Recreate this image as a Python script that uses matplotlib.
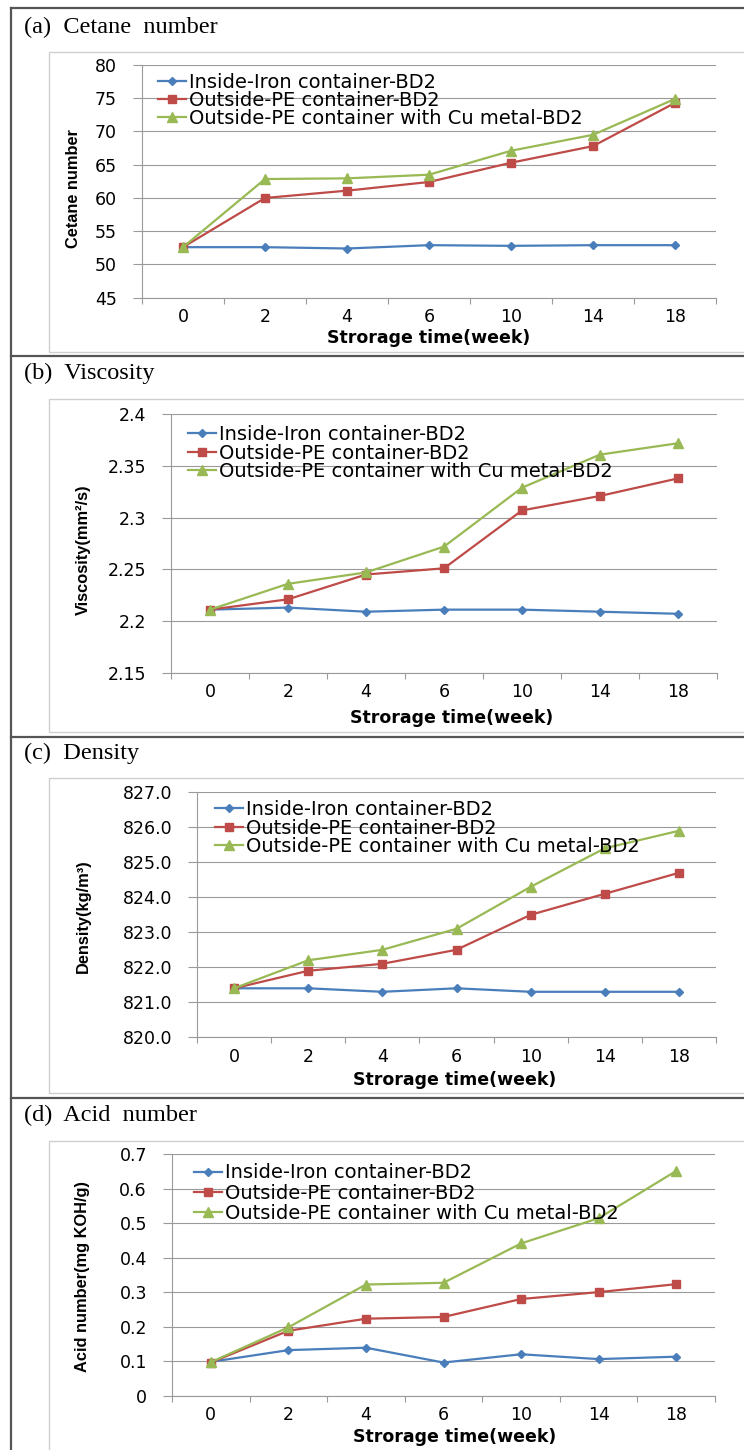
import matplotlib
matplotlib.use('Agg')
import matplotlib.pyplot as plt
from matplotlib.lines import Line2D
from matplotlib.patches import Rectangle
from matplotlib.ticker import FixedLocator

# storage time categories (week)
weeks = ['0', '2', '4', '6', '10', '14', '18']
series_names = ['Inside-Iron container-BD2',
                'Outside-PE container-BD2',
                'Outside-PE container with Cu metal-BD2']

# (a) cetane number
cetane_iron = [52.6, 52.6, 52.4, 52.9, 52.8, 52.9, 52.9]
cetane_pe = [52.6, 60.0, 61.1, 62.4, 65.3, 67.8, 74.3]
cetane_cu = [52.6, 62.85, 62.95, 63.5, 67.1, 69.5, 74.9]
cetane_ticks = [45, 50, 55, 60, 65, 70, 75, 80]
cetane_labels = ['45', '50', '55', '60', '65', '70', '75', '80']

# (b) viscosity
visc_iron = [2.211, 2.213, 2.209, 2.211, 2.211, 2.209, 2.207]
visc_pe = [2.211, 2.221, 2.245, 2.251, 2.307, 2.321, 2.338]
visc_cu = [2.211, 2.236, 2.247, 2.272, 2.329, 2.361, 2.372]
visc_ticks = [2.15, 2.2, 2.25, 2.3, 2.35, 2.4]
visc_labels = ['2.15', '2.2', '2.25', '2.3', '2.35', '2.4']

# (c) density
dens_iron = [821.4, 821.4, 821.3, 821.4, 821.3, 821.3, 821.3]
dens_pe = [821.4, 821.9, 822.1, 822.5, 823.5, 824.1, 824.7]
dens_cu = [821.4, 822.2, 822.5, 823.1, 824.3, 825.4, 825.9]
dens_ticks = [820, 821, 822, 823, 824, 825, 826, 827]
dens_labels = ['820.0', '821.0', '822.0', '823.0', '824.0', '825.0', '826.0', '827.0']

# (d) acid number
acid_iron = [0.098, 0.132, 0.139, 0.096, 0.120, 0.106, 0.113]
acid_pe = [0.096, 0.188, 0.223, 0.228, 0.280, 0.300, 0.323]
acid_cu = [0.097, 0.198, 0.322, 0.327, 0.441, 0.514, 0.651]
acid_ticks = [0, 0.1, 0.2, 0.3, 0.4, 0.5, 0.6, 0.7]
acid_labels = ['0', '0.1', '0.2', '0.3', '0.4', '0.5', '0.6', '0.7']

W, H = 744, 1450
fig = plt.figure(figsize=(W / 100, H / 100), dpi=100)

colors = ['#4A7EBB', '#BE4B48', '#98B954']
markers = ['D', 's', '^']
msizes = [4, 6, 6.5]
grid_c = '#9a9a9a'
tick_font = ['DejaVu Sans']
label_font = ['Liberation Sans']


def fx(x):
    return x / W


def fy(y):
    return 1 - y / H


panels = [
    dict(title='(a)  Cetane  number', ylabel='Cetane number',
         data=[cetane_iron, cetane_pe, cetane_cu],
         ticks=cetane_ticks, labels=cetane_labels,
         plot=(142, 65, 716, 297.7), title_y=27, box=(52, 352),
         ylab=(73, 189), xlab=(429, 338), leg=(158, 73), lsp=-0.05, sep=356),
    dict(title='(b)  Viscosity', ylabel='Viscosity(mm\u00b2/s)',
         data=[visc_iron, visc_pe, visc_cu],
         ticks=visc_ticks, labels=visc_labels,
         plot=(171, 414.3, 717, 672.7), title_y=373, box=(399, 732),
         ylab=(83, 550), xlab=(452, 718), leg=(187.5, 425), lsp=-0.025, sep=737),
    dict(title='(c)  Density', ylabel='Density(kg/m\u00b3)',
         data=[dens_iron, dens_pe, dens_cu],
         ticks=dens_ticks, labels=dens_labels,
         plot=(197, 792.3, 716, 1037.3), title_y=753, box=(778, 1093),
         ylab=(83, 916), xlab=(455, 1080), leg=(214.5, 800), lsp=-0.025, sep=1098),
    dict(title='(d)  Acid  number', ylabel='Acid number(mg KOH/g)',
         data=[acid_iron, acid_pe, acid_cu],
         ticks=acid_ticks, labels=acid_labels,
         plot=(172, 1154, 715, 1395.7), title_y=1115, box=(1141, 1460),
         ylab=(83, 1277), xlab=(455, 1437), leg=(193.6, 1163.5), lsp=0.07, sep=None),
]

x = list(range(len(weeks)))

for p in panels:
    l, t, r, b = p['plot']
    # chart area frame
    bt, bb = p['box']
    fig.patches.append(Rectangle((fx(49), fy(bb)), fx(760 - 49), (bb - bt) / H,
                                 transform=fig.transFigure, fill=False,
                                 edgecolor='#cfcfcf', lw=1.0, zorder=0))
    fig.text(fx(24), fy(p['title_y']), p['title'], family='Liberation Serif',
             fontsize=17.5, ha='left', va='center')

    ax = fig.add_axes([fx(l), fy(b), (r - l) / W, (b - t) / H])
    for i in range(3):
        ax.plot(x, p['data'][i], color=colors[i], lw=1.6, marker=markers[i],
                markersize=msizes[i], markerfacecolor=colors[i],
                markeredgecolor=colors[i], label=series_names[i],
                clip_on=False, zorder=3 + i)

    ax.set_xlim(-0.5, len(weeks) - 0.5)
    ax.set_ylim(p['ticks'][0], p['ticks'][-1])
    ax.set_yticks(p['ticks'])
    ax.set_yticklabels(p['labels'], family=tick_font, fontsize=12.5)
    ax.set_xticks(x)
    ax.set_xticklabels(weeks, family=tick_font, fontsize=12.5)
    ax.xaxis.set_minor_locator(FixedLocator([i - 0.5 for i in range(len(weeks) + 1)]))
    ax.tick_params(axis='x', which='major', length=0, pad=7.5)
    ax.tick_params(axis='x', which='minor', length=4.5, width=0.8, color=grid_c, direction='out')
    ax.tick_params(axis='y', which='major', length=6.5, width=0.8, color=grid_c, pad=11.5)
    ax.grid(axis='y', color=grid_c, lw=0.8)
    ax.set_axisbelow(True)
    for s in ['top', 'right']:
        ax.spines[s].set_visible(False)
    for s in ['left', 'bottom']:
        ax.spines[s].set_color(grid_c)
        ax.spines[s].set_linewidth(0.8)

    lx, ly = p['leg']
    ax.legend(loc='upper left', bbox_to_anchor=(fx(lx), fy(ly)),
              bbox_transform=fig.transFigure, frameon=False, borderpad=0,
              borderaxespad=0, handlelength=1.45, handletextpad=0.15,
              labelspacing=p['lsp'], numpoints=1,
              prop=dict(family=tick_font, size=14))

    fig.text(fx(p['ylab'][0]), fy(p['ylab'][1]), p['ylabel'], rotation=90,
             family=label_font, fontweight='bold', fontsize=11.8,
             ha='center', va='center')
    fig.text(fx(p['xlab'][0]), fy(p['xlab'][1]), 'Strorage time(week)',
             family=tick_font, fontweight='bold', fontsize=12.5,
             ha='center', va='center')

    if p['sep'] is not None:
        fig.add_artist(Line2D([fx(11), 1], [fy(p['sep']), fy(p['sep'])],
                              transform=fig.transFigure, color='#555555', lw=1.6))

# outer table border
fig.add_artist(Line2D([fx(11), 1], [fy(8), fy(8)], transform=fig.transFigure,
                      color='#555555', lw=1.6))
fig.add_artist(Line2D([fx(11), fx(11)], [fy(8), 0], transform=fig.transFigure,
                      color='#555555', lw=1.6))

fig.savefig('out.png', dpi=100)
